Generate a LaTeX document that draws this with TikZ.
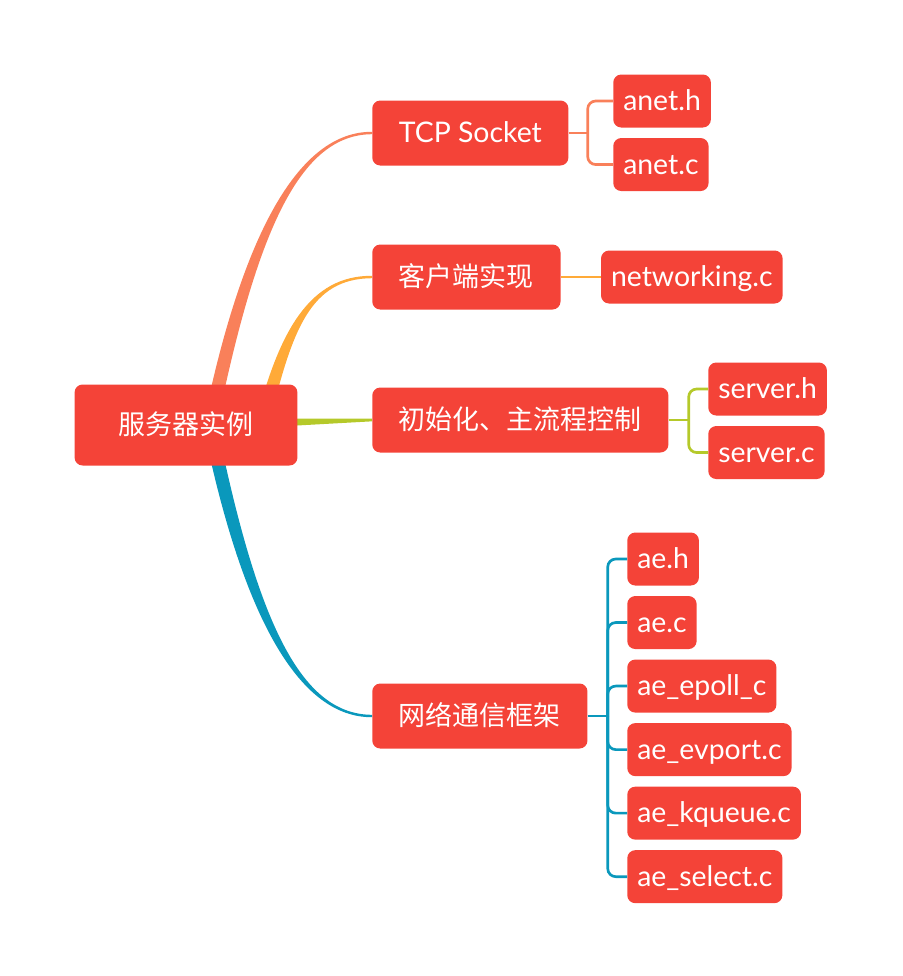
\documentclass[tikz,border=0pt]{standalone}
\usepackage{fontspec}
\setmainfont{Lato}
\newfontfamily\cjk[Scale=0.95]{Noto Sans CJK SC}
\usetikzlibrary{positioning,backgrounds}
\definecolor{boxred}{RGB}{244,67,56}
\definecolor{tcporange}{RGB}{249,128,90}
\definecolor{clientyellow}{RGB}{255,170,56}
\definecolor{initgreen}{RGB}{181,201,42}
\definecolor{netblue}{RGB}{10,152,188}

\begin{document}
\begin{tikzpicture}[x=0.75pt, y=-0.75pt, node distance=7.5pt,
                    every node/.style={text=white, font=\fontsize{21.3pt}{25pt}\selectfont, text height=17pt, text depth=2.5pt},
                    root node/.style={rectangle, rounded corners=6pt, fill=boxred, minimum height=60.75pt, inner xsep=33pt},
                    main node/.style={rectangle, rounded corners=6pt, fill=boxred, minimum height=48.75pt, inner xsep=20pt, anchor=west},
                    leaf node/.style={rectangle, rounded corners=6pt, fill=boxred, minimum height=39.75pt, inner xsep=7.5pt},
                    twig/.style={line width=2pt, rounded corners=6pt}]
  \useasboundingbox (0,0) rectangle (903,976);

  \node[root node] (root) at (186,425) {\cjk 服务器实例};

  \node[main node] (tcp) at (372,133) {TCP Socket};
  \node[main node] (client) at (372,277) {\cjk 客户端实现};
  \node[main node] (init) at (372,420) {\cjk 初始化、主流程控制};
  \node[main node] (net) at (372,716) {\cjk 网络通信框架};

  \node[leaf node, anchor=west] (aneth) at (613,101) {anet.h};
  \node[leaf node, below=of aneth.south west, anchor=north west] (anetc) {anet.c};
  \node[leaf node, right=30pt of client] (netc) {networking.c};
  \node[leaf node, anchor=west] (serverh) at (708,389) {server.h};
  \node[leaf node, below=of serverh.south west, anchor=north west] (serverc) {server.c};
  \node[leaf node, anchor=west] (aeh) at (627,559) {ae.h};
  \node[leaf node, below=of aeh.south west, anchor=north west] (aec) {ae.c};
  \node[leaf node, below=of aec.south west, anchor=north west] (aeepoll) {ae\_epoll\_c};
  \node[leaf node, below=of aeepoll.south west, anchor=north west] (aeevport) {ae\_evport.c};
  \node[leaf node, below=of aeevport.south west, anchor=north west] (aekqueue) {ae\_kqueue.c};
  \node[leaf node, below=of aekqueue.south west, anchor=north west] (aeselect) {ae\_select.c};

  \begin{scope}[on background layer]
    \fill[tcporange] ([xshift=12.75pt]root.center) .. controls (243,230) and (300,131.5) .. ([yshift=0.9pt]tcp.west)
      -- ([yshift=-0.9pt]tcp.west) .. controls (300,134.5) and (257,230) .. ([xshift=23.25pt]root.center) -- cycle;
    \fill[clientyellow] ([xshift=51.75pt]root.center) .. controls (279,330) and (310,275.5) .. ([yshift=0.9pt]client.west)
      -- ([yshift=-0.9pt]client.west) .. controls (310,278.5) and (292,330) .. ([xshift=62.25pt]root.center) -- cycle;
    \fill[initgreen] ([yshift=5pt]root.center) -- ([yshift=1pt]init.west) -- ([yshift=-1pt]init.west)
      -- ([yshift=-5pt]root.center) -- cycle;
    \fill[netblue] ([xshift=12.75pt]root.center) .. controls (243,620) and (300,717.5) .. ([yshift=-0.9pt]net.west)
      -- ([yshift=0.9pt]net.west) .. controls (300,714.5) and (257,620) .. ([xshift=23.25pt]root.center) -- cycle;
  \end{scope}

  \draw[twig, tcporange] (tcp.east) -- ++(19,0) coordinate (tcpfork);
  \draw[twig, tcporange] (tcpfork) |- (aneth.west) (tcpfork) |- (anetc.west);
  \draw[twig, clientyellow] (client.east) -- (netc.west);
  \draw[twig, initgreen] (init.east) -- ++(20,0) coordinate (initfork);
  \draw[twig, initgreen] (initfork) |- (serverh.west) (initfork) |- (serverc.west);
  \draw[twig, netblue] (net.east) -- ++(20,0) coordinate (netfork);
  \foreach \leaf in {aeh,aec,aeepoll,aeevport,aekqueue,aeselect}
    \draw[twig, netblue] (netfork) |- (\leaf.west);
\end{tikzpicture}
\end{document}
